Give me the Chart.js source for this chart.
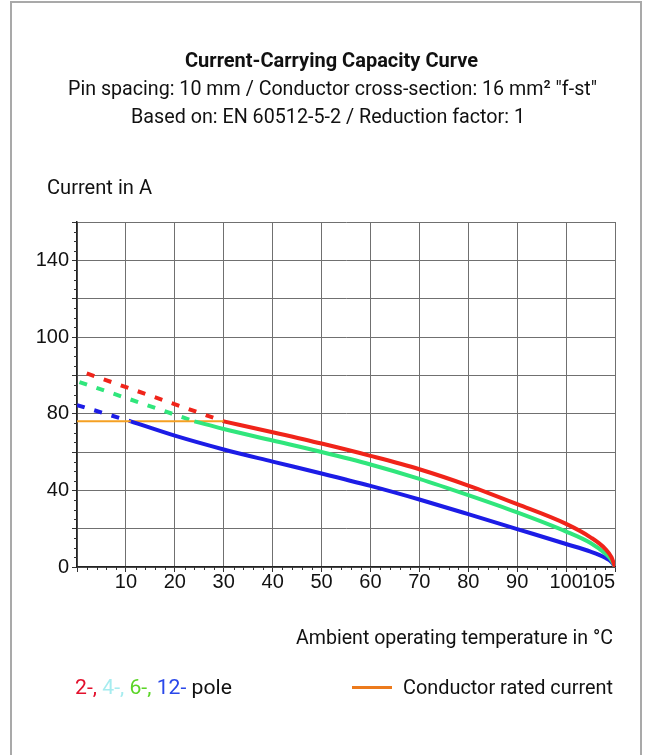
<!DOCTYPE html>
<html>
<head>
<meta charset="utf-8">
<script src="https://cdn.jsdelivr.net/npm/chart.js@4.4.0/dist/chart.umd.min.js"></script>
<style>
body { margin: 0; background: #fff; }
#wrap { position: relative; width: 650px; height: 755px; overflow: hidden; background: #fff; }
#chart { position: absolute; left: 0; top: 0; }
#frame { position: absolute; left: 10px; top: 1px; width: 628px; height: 770px; border: 2px solid #a9a9a9; }
.t { position: absolute; white-space: nowrap; font-family: "Roboto", "Liberation Sans", sans-serif; font-size: 21px; color: #111; line-height: 1; transform-origin: 0 50%; }
#legLine { position: absolute; left: 352px; top: 686px; width: 40px; height: 3px; background: #ec7a1c; }
</style>
</head>
<body>
<div id="wrap">
  <div id="frame"></div>
  <canvas id="chart" width="650" height="755"></canvas>
  <div class="t" data-x="185" data-y="60" data-w="293" style="font-weight:bold;font-size:21px">Current-Carrying Capacity Curve</div>
  <div class="t" data-x="68" data-y="88" data-w="529">Pin spacing: 10 mm / Conductor cross-section: 16 mm² "f-st"</div>
  <div class="t" data-x="131" data-y="116" data-w="394">Based on: EN 60512-5-2 / Reduction factor: 1</div>
  <div class="t" data-x="47" data-y="187" data-w="105">Current in A</div>
  <div class="t" data-x="296" data-y="637" data-w="317">Ambient operating temperature in °C</div>
  <div class="t" data-x="75" data-y="687" data-w="157"><span style="color:#e3102c">2-,</span> <span style="color:#a6ecef">4-,</span> <span style="color:#5ad526">6-,</span> <span style="color:#2a48ea">12-</span> pole</div>
  <div id="legLine"></div>
  <div class="t" data-x="403" data-y="687" data-w="210">Conductor rated current</div>
</div>
<script>
// axis ticks
const xTickValues = [0, 10, 20, 30, 40, 50, 60, 70, 80, 90, 100, 110];
const xTickLabels = ['', '10', '20', '30', '40', '50', '60', '70', '80', '90', '100', '105'];
const yTickLabels = ['0', '', '40', '', '80', '', '100', '', '140', ''];

// 2-pole (red)
const pole2Temp = [30, 40, 50, 60, 70, 80, 90, 100, 105, 108, 109.3, 110];
const pole2Current = [76, 70.3, 64.4, 58, 51, 42.5, 32.8, 22.5, 15.5, 9.5, 5, 0];
const pole2DashTemp = [2, 30];
const pole2DashCurrent = [101, 76];

// 4-, 6-pole (green)
const pole6Temp = [24, 30, 40, 50, 60, 70, 80, 90, 100, 105, 108, 109.3, 110];
const pole6Current = [76, 72, 66, 60, 53.5, 46, 37.5, 28.5, 18.5, 12.5, 7, 3.5, 0];
const pole6DashTemp = [0.5, 24];
const pole6DashCurrent = [96.5, 76];

// 12-pole (blue)
const pole12Temp = [11, 20, 30, 40, 50, 60, 70, 80, 90, 100, 105, 108, 109.3, 110];
const pole12Current = [76, 68.5, 61.3, 55, 48.8, 42.3, 35.2, 27.6, 19.8, 12, 8, 4.8, 2.6, 0];
const pole12DashTemp = [0, 11];
const pole12DashCurrent = [84.5, 76];

// conductor rated current (orange)
const ratedTemp = [0, 30];
const ratedCurrent = [76, 76];

const pts = (xs, ys) => xs.map((x, i) => ({ x, y: ys[i] }));

function solid(label, xs, ys, color) {
    return { label, data: pts(xs, ys), borderColor: color, borderWidth: 4, pointRadius: 0,
             cubicInterpolationMode: 'monotone', fill: false };
}
function dashed(label, xs, ys, color) {
    return { label, data: pts(xs, ys), borderColor: color, borderWidth: 4, pointRadius: 0,
             borderDash: [8, 10], fill: false };
}

const tickFont = '20px "Liberation Sans", Arial, sans-serif';

const axisExtras = {
    id: 'axisExtras',
    afterDraw(chart) {
        const { ctx, chartArea: a, scales: { x, y } } = chart;
        ctx.save();
        ctx.strokeStyle = '#333';
        ctx.lineWidth = 1;
        ctx.beginPath();
        for (let v = 5; v < 180; v += 5) {
            if (v % 20 === 0) continue;
            const py = Math.round(y.getPixelForValue(v)) + 0.5;
            ctx.moveTo(a.left - 3, py); ctx.lineTo(a.left, py);
        }
        for (let v = 2; v < 110; v += 2) {
            if (v % 10 === 0) continue;
            const px = Math.round(x.getPixelForValue(v)) + 0.5;
            ctx.moveTo(px, a.bottom); ctx.lineTo(px, a.bottom + 3);
        }
        ctx.stroke();
        ctx.fillStyle = '#111';
        ctx.font = tickFont;
        ctx.textBaseline = 'middle';
        xTickValues.forEach((v, i) => {
            const last = i === xTickValues.length - 1;
            ctx.textAlign = last ? 'right' : 'center';
            ctx.fillText(xTickLabels[i], x.getPixelForValue(v), a.bottom + 15);
        });
        ctx.restore();
    }
};

const ctx = document.getElementById('chart').getContext('2d');
new Chart(ctx, {
    type: 'line',
    data: {
        datasets: [
            solid('2-pole', pole2Temp, pole2Current, '#f0241a'),
            solid('4-, 6-pole', pole6Temp, pole6Current, '#30e67c'),
            solid('12-pole', pole12Temp, pole12Current, '#1c1ce6'),
            { label: 'Conductor rated current', data: pts(ratedTemp, ratedCurrent), borderColor: '#f5a023',
              borderWidth: 2, pointRadius: 0, fill: false },
            dashed('2-pole extrapolated', pole2DashTemp, pole2DashCurrent, '#f0241a'),
            dashed('4-, 6-pole extrapolated', pole6DashTemp, pole6DashCurrent, '#30e67c'),
            dashed('12-pole extrapolated', pole12DashTemp, pole12DashCurrent, '#1c1ce6')
        ]
    },
    options: {
        responsive: false,
        animation: false,
        layout: { padding: { left: 30, right: 35, top: 222, bottom: 158 } },
        plugins: { legend: { display: false }, tooltip: { enabled: false } },
        scales: {
            x: {
                type: 'linear', min: 0, max: 110,
                ticks: { stepSize: 10, display: false },
                grid: { color: '#707070', lineWidth: 1, tickLength: 5, tickColor: '#333' },
                border: { color: '#222', width: 1.5 },
                afterFit: s => { s.height = 30; }
            },
            y: {
                min: 0, max: 180,
                ticks: { stepSize: 20, padding: 3, color: '#111',
                         font: { family: '"Liberation Sans", Arial, sans-serif', size: 20 },
                         callback: v => yTickLabels[v / 20] },
                grid: { color: '#707070', lineWidth: 1, tickLength: 5, tickColor: '#333' },
                border: { color: '#222', width: 1.5 },
                afterFit: s => { s.width = 47; }
            }
        }
    },
    plugins: [axisExtras]
});

// fit text boxes to the widths measured on the reference
document.querySelectorAll('.t').forEach(el => {
    const r = el.getBoundingClientRect();
    el.style.left = el.dataset.x + 'px';
    el.style.top = (el.dataset.y - r.height / 2) + 'px';
    el.style.transform = 'scaleX(' + (el.dataset.w / r.width) + ')';
});
</script>
</body>
</html>
